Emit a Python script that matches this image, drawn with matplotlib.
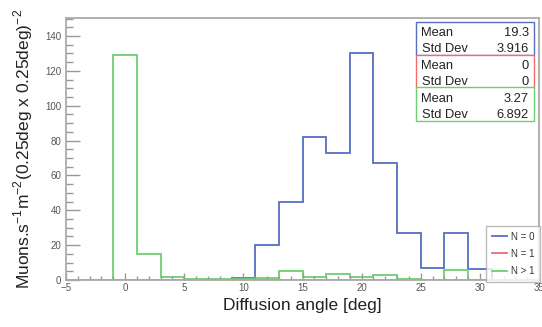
import numpy as np
import matplotlib.pyplot as plt
from matplotlib.patches import Rectangle
from matplotlib.ticker import MultipleLocator

plt.rcParams['font.family'] = ['Liberation Sans', 'DejaVu Sans']

# histogram bin edges (2 deg bins)
edges = np.arange(-5, 33, 2)
n0 = [0, 0, 0, 0, 0, 0, 0, 1, 20, 45, 82, 73, 130, 67, 27, 7, 27, 6.5]
n1 = [0] * 18
n2 = [0, 0, 129, 15, 1.5, 0.8, 0.5, 0.5, 1, 5, 2, 3.5, 2, 3, 0.5, 0, 6, 0]

labels = ['N = 0', 'N = 1', 'N > 1']
colors = ['#5570c0', '#f26b6b', '#6fcf6f']
stats = [('19.3', '3.916'), ('0', '0'), ('3.27', '6.892')]

fig = plt.figure(figsize=(5.42, 3.27), dpi=100)
ax = fig.add_axes([0.1218, 0.1437, 0.8727, 0.8013])

for vals, lab, c in zip([n0, n1, n2], labels, colors):
    ax.stairs(vals, edges, color=c, lw=1.3, label=lab)

ax.set_xlim(-5, 35)
ax.set_ylim(0, 150.3)
ax.xaxis.set_major_locator(MultipleLocator(5))
ax.xaxis.set_minor_locator(MultipleLocator(1))
ax.yaxis.set_major_locator(MultipleLocator(20))
ax.yaxis.set_minor_locator(MultipleLocator(5))
ax.tick_params(axis='both', which='both', direction='in', colors='#999999',
               labelcolor='#555555', labelsize=7, width=1)
ax.tick_params(axis='y', which='major', length=10)
ax.tick_params(axis='y', which='minor', length=5)
ax.tick_params(axis='x', which='major', length=5, pad=2)
ax.tick_params(axis='x', which='minor', length=3)
for s in ax.spines.values():
    s.set_color('#aaaaaa')
    s.set_linewidth(1.3)

ax.set_xlabel('Diffusion angle [deg]', fontsize=12.5, color='#222222', labelpad=4)
ax.set_ylabel('Muons.s$^{\\mathregular{-1}}$m$^{\\mathregular{-2}}$(0.25deg x 0.25deg)$^{\\mathregular{-2}}$',
              fontsize=12.5, color='#222222', labelpad=7)

# stat boxes (figure pixel coords converted)
W, H = 542.0, 327.0
bx0, bx1 = 416, 534
btop, bh = 21.5, 33
for i, ((m, sd), c) in enumerate(zip(stats, colors)):
    y_top = btop + i * bh
    fig.patches.append(Rectangle((bx0 / W, 1 - (y_top + bh) / H), (bx1 - bx0) / W, bh / H,
                                 transform=fig.transFigure, facecolor='white',
                                 edgecolor=c, lw=1.0, zorder=5))
    for j, (name, val) in enumerate([('Mean', m), ('Std Dev', sd)]):
        yy = 1 - (y_top + 11.5 + j * 16.5) / H
        fig.text(421.5 / W, yy, name, fontsize=9.3, va='center', ha='left',
                 color='#222222', zorder=6)
        fig.text(529 / W, yy, val, fontsize=9.3, va='center', ha='right',
                 color='#222222', zorder=6)

leg = ax.legend(loc='lower right', bbox_to_anchor=(540 / W, 1 - 282 / H),
                bbox_transform=fig.transFigure, fontsize=7, frameon=True,
                fancybox=False, edgecolor='#aaaaaa', handlelength=1.6,
                handletextpad=0.35, labelspacing=0.75, borderpad=0.6,
                borderaxespad=0)
leg.get_frame().set_linewidth(1.0)
for t in leg.get_texts():
    t.set_color('#333333')

fig.savefig('out.png', dpi=100)
